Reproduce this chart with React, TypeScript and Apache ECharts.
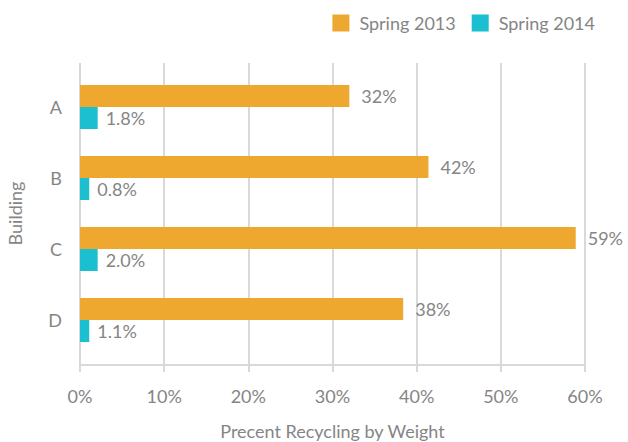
import React, { useEffect, useRef } from "react";
import * as echarts from "echarts";

const categories = ["A", "B", "C", "D"];
const seriesNames = ["Spring 2013", "Spring 2014"];
const spring2013 = [32, 41.4, 58.9, 38.4];
const spring2014 = [2.1, 1.1, 2.1, 1.1];
const labels2013 = ["32%", "42%", "59%", "38%"];
const labels2014 = ["1.8%", "0.8%", "2.0%", "1.1%"];
const xMin = 0;
const xMax = 60;
const xInterval = 10;

const FONT = "Lato";
const TEXT = "#858585";
const GRID = "#d9d9d9";
const ORANGE = "#EEA82F";
const TEAL = "#1BBFCF";

export default function App() {
  const ref = useRef<HTMLDivElement>(null);
  useEffect(() => {
    if (!ref.current) return;
    const chart = echarts.init(ref.current, null, { renderer: "svg" });
    const left = 80;
    const right = 43;
    chart.setOption({
      animation: false,
      textStyle: { fontFamily: FONT, color: TEXT },
      legend: {
        right: 33,
        top: 14,
        padding: 0,
        itemWidth: 17,
        itemHeight: 17,
        itemGap: 16,
        icon: "rect",
        data: seriesNames,
        textStyle: { fontFamily: FONT, fontSize: 18, color: TEXT, padding: [0, 0, 0, 5] },
      },
      grid: [
        { left, right, top: 63, height: 302, outerBoundsMode: "none", containLabel: false },
        { left, right, top: 71.5, height: 284, outerBoundsMode: "none", containLabel: false },
      ],
      xAxis: [
        {
          gridIndex: 0,
          type: "value",
          min: xMin,
          max: xMax,
          interval: xInterval,
          name: "Precent Recycling by Weight",
          nameLocation: "middle",
          nameGap: 57,
          nameTextStyle: { fontFamily: FONT, fontSize: 18, color: TEXT },
          axisLine: { show: true, lineStyle: { color: GRID, width: 2 } },
          axisTick: { show: true, length: 7, lineStyle: { color: GRID, width: 2 } },
          axisLabel: {
            formatter: "{value}%",
            margin: 22,
            fontFamily: FONT,
            fontSize: 18,
            color: TEXT,
          },
          splitLine: { show: true, lineStyle: { color: GRID, width: 2 } },
        },
        {
          gridIndex: 1,
          type: "value",
          min: xMin,
          max: xMax,
          interval: xInterval,
          show: false,
        },
      ],
      yAxis: [
        { gridIndex: 0, type: "value", show: false },
        {
          gridIndex: 1,
          type: "category",
          inverse: true,
          data: categories,
          name: "Building",
          nameLocation: "middle",
          nameGap: 56,
          nameRotate: 90,
          nameTextStyle: { fontFamily: FONT, fontSize: 18, color: TEXT },
          axisLine: { show: false },
          axisTick: { show: false },
          axisLabel: { margin: 18, fontFamily: FONT, fontSize: 18, color: TEXT },
        },
      ],
      series: [
        {
          name: seriesNames[0],
          type: "bar",
          xAxisIndex: 1,
          yAxisIndex: 1,
          data: spring2013,
          barWidth: 22,
          barGap: "0%",
          itemStyle: { color: ORANGE },
          label: {
            show: true,
            position: "right",
            distance: 12,
            fontFamily: FONT,
            fontSize: 18,
            color: TEXT,
            formatter: (p: any) => labels2013[p.dataIndex],
          },
        },
        {
          name: seriesNames[1],
          type: "bar",
          xAxisIndex: 1,
          yAxisIndex: 1,
          data: spring2014,
          barWidth: 22,
          barGap: "0%",
          itemStyle: { color: TEAL },
          label: {
            show: true,
            position: "right",
            distance: 8,
            fontFamily: FONT,
            fontSize: 18,
            color: TEXT,
            formatter: (p: any) => labels2014[p.dataIndex],
          },
        },
      ],
    });
    return () => chart.dispose();
  }, []);
  return (
    <div
      ref={ref}
      style={{ position: "fixed", left: 0, top: 0, width: 628, height: 442, background: "#fff" }}
    />
  );
}
